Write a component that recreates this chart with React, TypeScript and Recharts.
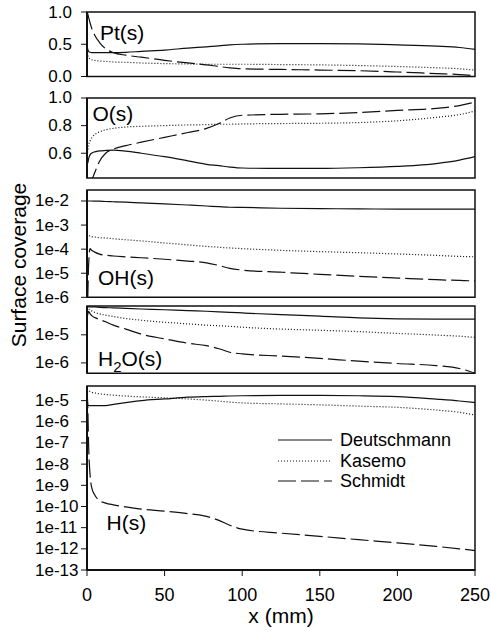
import React from "react";
import {
  LineChart,
  Line,
  XAxis,
  YAxis,
  ReferenceArea,
  Legend,
  Label,
  Customized,
} from "recharts";

const FONT = "Arial, 'Liberation Sans', sans-serif";
const INK = "#111";

// distance along the monolith (mm)
const X_MM = [0, 0.5, 1, 2, 3, 5, 8, 12, 17, 25, 35, 50, 65, 77, 85, 92, 100, 125, 150, 175, 200, 225, 240, 250];
const X_TICKS = [0, 50, 100, 150, 200, 250];

// Pt(s)
const PT_DEUTSCHMANN = [0.48, 0.42, 0.39, 0.375, 0.37, 0.37, 0.37, 0.37, 0.37, 0.375, 0.39, 0.41, 0.44, 0.46, 0.475, 0.49, 0.5, 0.51, 0.51, 0.505, 0.49, 0.47, 0.45, 0.42];
const PT_KASEMO = [0.42, 0.34, 0.3, 0.27, 0.26, 0.25, 0.24, 0.235, 0.225, 0.22, 0.21, 0.2, 0.195, 0.19, 0.19, 0.19, 0.19, 0.185, 0.18, 0.17, 0.155, 0.135, 0.12, 0.1];
const PT_SCHMIDT = [1.0, 0.97, 0.92, 0.83, 0.75, 0.64, 0.53, 0.43, 0.37, 0.33, 0.3, 0.25, 0.21, 0.18, 0.155, 0.135, 0.12, 0.11, 0.1, 0.09, 0.07, 0.045, 0.03, 0.01];
const PT_TICKS = [0, 0.5, 1];

// O(s)
const O_DEUTSCHMANN = [0.6, 0.53, 0.56, 0.59, 0.6, 0.61, 0.617, 0.62, 0.622, 0.615, 0.6, 0.575, 0.545, 0.52, 0.51, 0.5, 0.493, 0.49, 0.49, 0.495, 0.505, 0.525, 0.55, 0.575];
const O_KASEMO = [0.56, 0.62, 0.66, 0.69, 0.71, 0.735, 0.755, 0.77, 0.78, 0.79, 0.795, 0.8, 0.805, 0.807, 0.81, 0.81, 0.812, 0.815, 0.817, 0.822, 0.835, 0.86, 0.88, 0.905];
const O_SCHMIDT = [0.2, 0.25, 0.3, 0.36, 0.4, 0.46, 0.54, 0.6, 0.63, 0.655, 0.68, 0.715, 0.75, 0.78, 0.815, 0.855, 0.875, 0.882, 0.885, 0.895, 0.91, 0.925, 0.945, 0.97];
const O_TICKS = [0.6, 0.8, 1.0];

// OH(s)
const OH_DEUTSCHMANN = [1.0e-2, 1.0e-2, 1.0e-2, 1.0e-2, 1.0e-2, 9.9e-3, 9.8e-3, 9.5e-3, 9.3e-3, 8.9e-3, 8.3e-3, 7.6e-3, 6.8e-3, 6.2e-3, 5.8e-3, 5.5e-3, 5.4e-3, 5.0e-3, 4.8e-3, 4.7e-3, 4.6e-3, 4.6e-3, 4.6e-3, 4.6e-3];
const OH_KASEMO = [4.5e-4, 4.0e-4, 3.7e-4, 3.5e-4, 3.3e-4, 3.2e-4, 3.0e-4, 2.9e-4, 2.7e-4, 2.45e-4, 2.2e-4, 1.8e-4, 1.5e-4, 1.3e-4, 1.2e-4, 1.12e-4, 1.05e-4, 8.9e-5, 7.9e-5, 7.1e-5, 6.3e-5, 5.5e-5, 5.0e-5, 4.8e-5];
const OH_SCHMIDT = [1e-7, 1e-6, 2e-5, 1.05e-4, 9e-5, 7.5e-5, 6.2e-5, 5.6e-5, 5.2e-5, 4.8e-5, 4.4e-5, 3.8e-5, 3.2e-5, 2.7e-5, 2.1e-5, 1.6e-5, 1.35e-5, 1.1e-5, 9.0e-6, 7.4e-6, 6.3e-6, 5.4e-6, 5.0e-6, 4.8e-6];
const OH_TICKS = [1e-6, 1e-5, 1e-4, 1e-3, 1e-2];

// H2O(s)
const H2O_DEUTSCHMANN = [1.0e-4, 9.8e-5, 9.8e-5, 9.8e-5, 9.8e-5, 9.8e-5, 9.5e-5, 9.3e-5, 9.1e-5, 8.7e-5, 8.3e-5, 7.8e-5, 7.2e-5, 6.9e-5, 6.6e-5, 6.3e-5, 6.0e-5, 5.2e-5, 4.6e-5, 4.0e-5, 3.7e-5, 3.6e-5, 3.6e-5, 3.6e-5];
const H2O_KASEMO = [1.0e-4, 8.9e-5, 8.3e-5, 7.6e-5, 7.1e-5, 6.3e-5, 5.6e-5, 5.0e-5, 4.5e-5, 3.8e-5, 3.3e-5, 2.8e-5, 2.45e-5, 2.2e-5, 2.1e-5, 2.0e-5, 1.86e-5, 1.6e-5, 1.45e-5, 1.3e-5, 1.12e-5, 9.8e-6, 8.9e-6, 8.1e-6];
const H2O_SCHMIDT = [4.3e-5, 5.5e-5, 6.8e-5, 5.6e-5, 4.8e-5, 4.1e-5, 3.5e-5, 2.9e-5, 2.2e-5, 1.6e-5, 1.05e-5, 7.2e-6, 5.0e-6, 4.1e-6, 3.2e-6, 2.4e-6, 2.1e-6, 1.75e-6, 1.45e-6, 1.15e-6, 9.5e-7, 8.0e-7, 6.3e-7, 4.3e-7];
const H2O_TICKS = [1e-6, 1e-5];

// H(s)
const H_DEUTSCHMANN = [4.0e-5, 6.3e-6, 5.9e-6, 5.8e-6, 5.8e-6, 5.8e-6, 5.8e-6, 5.8e-6, 6.6e-6, 8.0e-6, 1.0e-5, 1.2e-5, 1.45e-5, 1.55e-5, 1.6e-5, 1.65e-5, 1.7e-5, 1.75e-5, 1.75e-5, 1.7e-5, 1.55e-5, 1.17e-5, 9.6e-6, 8.1e-6];
const H_KASEMO = [3.5e-5, 3.2e-5, 3.0e-5, 2.7e-5, 2.5e-5, 2.3e-5, 2.1e-5, 1.95e-5, 1.8e-5, 1.65e-5, 1.5e-5, 1.35e-5, 1.2e-5, 1.05e-5, 9.5e-6, 8.5e-6, 7.8e-6, 7.0e-6, 6.3e-6, 5.5e-6, 4.8e-6, 3.6e-6, 2.8e-6, 2.1e-6];
const H_SCHMIDT = [3e-5, 5e-6, 1e-7, 3e-9, 8e-10, 3.5e-10, 1.9e-10, 1.45e-10, 1.2e-10, 9.5e-11, 7.5e-11, 6e-11, 4.6e-11, 3.4e-11, 2.2e-11, 1.3e-11, 8.5e-12, 5.5e-12, 3.9e-12, 2.7e-12, 1.9e-12, 1.3e-12, 1.0e-12, 8.3e-13];
const H_TICKS = [1e-13, 1e-12, 1e-11, 1e-10, 1e-9, 1e-8, 1e-7, 1e-6, 1e-5];

const SERIES = [
  { key: "d", name: "Deutschmann", dash: undefined as string | undefined },
  { key: "k", name: "Kasemo", dash: "1 2" },
  { key: "s", name: "Schmidt", dash: "18 5" },
];

const rows = (d: number[], k: number[], s: number[]) =>
  X_MM.map((x, i) => ({ x, d: d[i], k: k[i], s: s[i] }));

const YTick = ({ y, payload, log }: any) => {
  const v = payload.value;
  const text = log ? `1e${Math.round(Math.log10(v))}` : v.toFixed(1);
  return (
    <text
      x={log ? 35 : 72}
      y={y}
      textAnchor={log ? "start" : "end"}
      dominantBaseline="central"
      fontSize={17}
      fontFamily={FONT}
      fill="#000"
    >
      {text}
    </text>
  );
};

const PanelLabel = ({ lx, ly, name, sub }: any) => (
  <text x={lx} y={ly} fontSize={21} fontFamily={FONT} fill="#000">
    {sub ? (
      <>
        H<tspan dy={6} fontSize={15}>2</tspan>
        <tspan dy={-6}>O(s)</tspan>
      </>
    ) : (
      name
    )}
  </text>
);

const renderLegend = () => (
  <div style={{ fontFamily: FONT, fontSize: 18, color: "#000" }}>
    {SERIES.map((s) => (
      <div key={s.name} style={{ display: "flex", alignItems: "center", height: 20.5 }}>
        <svg width={54} height={10}>
          <line x1={0} x2={54} y1={5} y2={5} stroke={INK} strokeWidth={1.2} strokeDasharray={s.dash} />
        </svg>
        <span style={{ marginLeft: 8, lineHeight: "20px" }}>{s.name}</span>
      </div>
    ))}
  </div>
);

interface PanelProps {
  top: number;
  bottom: number;
  domain: [number, number];
  log?: boolean;
  ticks: number[];
  data: any[];
  name: string;
  lx: number;
  ly: number;
  sub?: boolean;
  last?: boolean;
}

function Panel({ top, bottom, domain, log, ticks, data, name, lx, ly, sub, last }: PanelProps) {
  const pad = Math.min(12, top);
  const chartTop = top - pad;
  const height = last ? 643 - chartTop : bottom - top + pad + 12;
  return (
    <div style={{ position: "absolute", left: 0, top: chartTop }}>
      <LineChart
        width={491}
        height={height}
        data={data}
        margin={{ top: pad, right: 16, bottom: last ? 0 : 12, left: 0 }}
      >
        <XAxis
          type="number"
          dataKey="x"
          domain={[0, 250]}
          ticks={X_TICKS}
          interval={0}
          hide={!last}
          height={643 - bottom}
          tickSize={6}
          tickMargin={12}
          tick={{ fontSize: 18, fill: "#000", fontFamily: FONT }}
          axisLine={{ stroke: INK, strokeWidth: 2 }}
          tickLine={{ stroke: INK }}
        >
          {last && (
            <Label
              value="x (mm)"
              position="insideBottom"
              offset={20}
              style={{ fontSize: 21, fill: "#000", fontFamily: FONT }}
            />
          )}
        </XAxis>
        <YAxis
          type="number"
          scale={log ? "log" : "linear"}
          domain={domain}
          ticks={ticks}
          interval={0}
          allowDataOverflow
          width={87}
          tickSize={6}
          tick={<YTick log={log} />}
          axisLine={{ stroke: INK, strokeWidth: 2 }}
          tickLine={{ stroke: INK }}
        />
        <ReferenceArea
          x1={0}
          x2={250}
          y1={domain[0]}
          y2={domain[1]}
          fill="none"
          stroke={INK}
          strokeWidth={1.5}
          fillOpacity={0}
        />
        {SERIES.map((s) => (
          <Line
            key={s.key}
            dataKey={s.key}
            name={s.name}
            type="monotone"
            stroke={INK}
            strokeWidth={1.2}
            strokeDasharray={s.dash}
            dot={false}
            isAnimationActive={false}
          />
        ))}
        <Customized component={<PanelLabel lx={lx} ly={ly - chartTop} name={name} sub={sub} />} />
        {last && (
          <Legend
            layout="vertical"
            align="center"
            verticalAlign="middle"
            content={renderLegend}
            wrapperStyle={{ top: 56, left: 278, width: "auto" }}
          />
        )}
      </LineChart>
    </div>
  );
}

export default function App() {
  return (
    <div style={{ position: "absolute", left: 0, top: 0, width: 491, height: 643, background: "#fff" }}>
      <Panel top={12} bottom={76.5} domain={[0, 1]} ticks={PT_TICKS}
        data={rows(PT_DEUTSCHMANN, PT_KASEMO, PT_SCHMIDT)} name="Pt(s)" lx={100} ly={40} />
      <Panel top={98.2} bottom={178.3} domain={[0.42, 1]} ticks={O_TICKS}
        data={rows(O_DEUTSCHMANN, O_KASEMO, O_SCHMIDT)} name="O(s)" lx={92.5} ly={121.5} />
      <Panel top={190} bottom={297.3} domain={[1e-6, 0.0286]} log ticks={OH_TICKS}
        data={rows(OH_DEUTSCHMANN, OH_KASEMO, OH_SCHMIDT)} name="OH(s)" lx={98} ly={285} />
      <Panel top={305.5} bottom={372.7} domain={[4.3e-7, 1.06e-4]} log ticks={H2O_TICKS}
        data={rows(H2O_DEUTSCHMANN, H2O_KASEMO, H2O_SCHMIDT)} name="H2O(s)" sub lx={98} ly={366} />
      <Panel top={386} bottom={570} domain={[1e-13, 4.9e-5]} log ticks={H_TICKS}
        data={rows(H_DEUTSCHMANN, H_KASEMO, H_SCHMIDT)} name="H(s)" lx={106.5} ly={530} last />
      <div
        style={{
          position: "absolute",
          left: 19,
          top: 265,
          transform: "translate(-50%, -50%) rotate(-90deg)",
          whiteSpace: "nowrap",
          fontFamily: FONT,
          fontSize: 21,
          color: "#000",
        }}
      >
        Surface coverage
      </div>
    </div>
  );
}
